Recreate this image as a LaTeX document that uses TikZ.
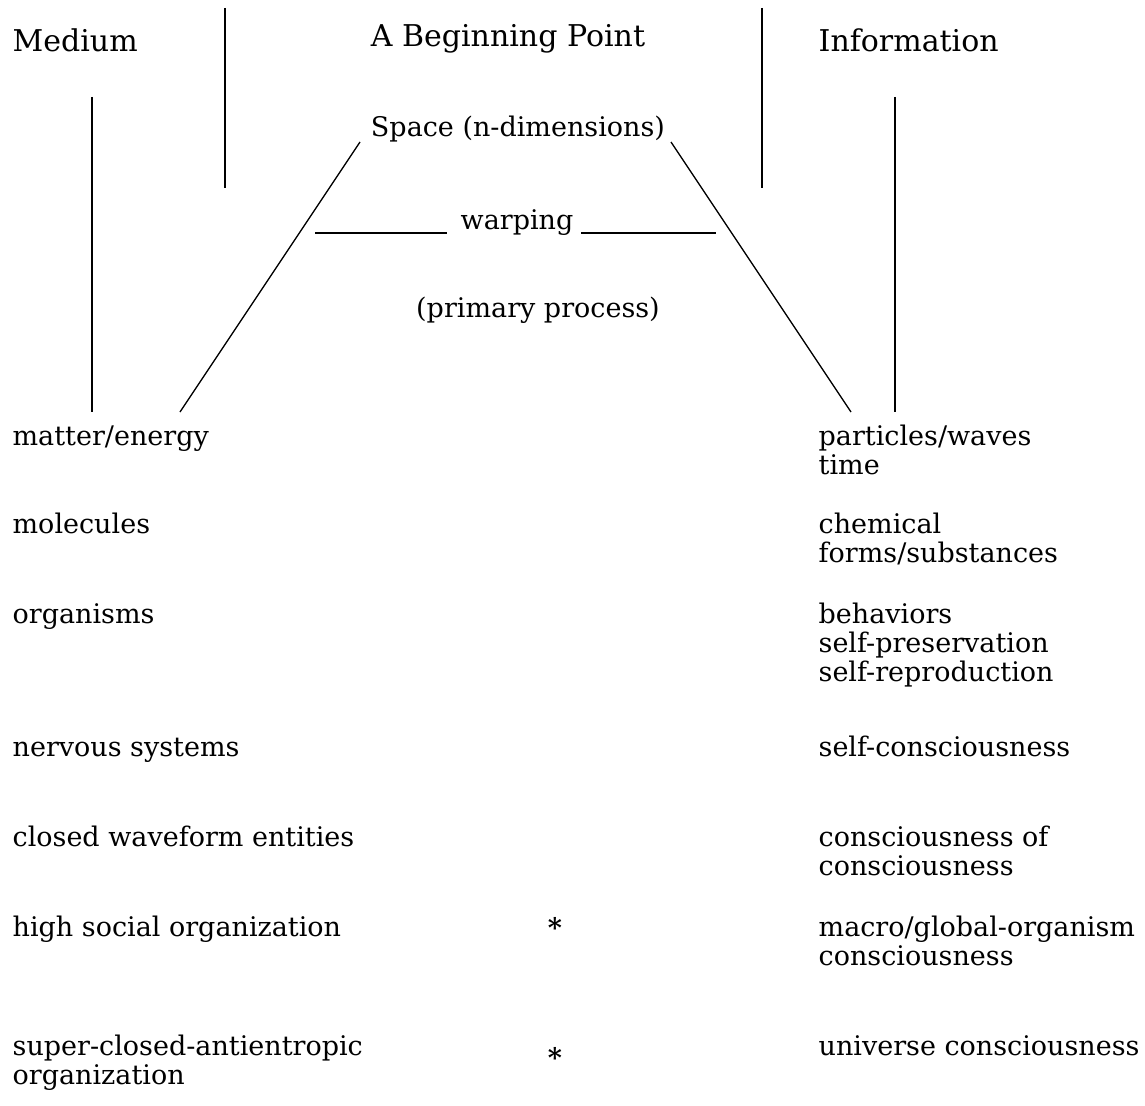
\documentclass[tikz,border=0pt]{standalone}
\usepackage{fontspec}
\setmainfont{DejaVu Serif}

\newcommand{\rows}[1]{\begin{tabular}[t]{@{}l@{}}#1\end{tabular}}

\tikzset{
  txt/.style={inner sep=0pt, anchor=base west,
    font=\fontsize{27}{29}\selectfont},
  head/.style={inner sep=0pt, anchor=base,
    font=\fontsize{30}{32}\selectfont},
  mid/.style={inner sep=0pt, anchor=base,
    font=\fontsize{27}{29}\selectfont}
}

\begin{document}
\begin{tikzpicture}[x=1pt,y=-1pt,line width=1.3pt]
\useasboundingbox (0,0) rectangle (1145,1105);
% headings
\node[head, anchor=base west] (medium) at (12,52) {Medium};
\node[head] (begin) at (508,47) {A Beginning Point};
\node[head, anchor=base west] (info) at (818,52) {Information};
\draw (225,8) -- (225,188);
\draw (762,8) -- (762,188);
\coordinate (ml) at (92,97);
\coordinate (mb) at (92,412);
\coordinate (il) at (895,97);
\coordinate (ib) at (895,412);
\draw (ml) -- (mb);
\draw (il) -- (ib);
% the beginning point
\node[mid] (space) at (518,136) {Space (n-dimensions)};
\node[mid] (warp) at (517,229) {warping};
\node[mid] (primary) at (538,317) {(primary process)};
\coordinate (sl) at (360,142);
\coordinate (sr) at (671,142);
\coordinate (el) at (180,412);
\coordinate (er) at (851,412);
\draw (sl) -- (el);
\draw (sr) -- (er);
\coordinate (wl) at (315,233);
\coordinate (wr) at (716,233);
\draw (wl) -- (447,233);
\draw (581,233) -- (wr);
% medium column
\node[txt] (matter) at (12,445) {matter/energy};
\node[txt] (molec) at (12,533) {molecules};
\node[txt] (organ) at (12,623) {organisms};
\node[txt] (nerv) at (12,756) {nervous systems};
\node[txt] (closed) at (12,846) {closed waveform entities};
\node[txt] (social) at (12,936) {high social organization};
\node[txt] (super) at (12,1055) {\rows{super-closed-antientropic\\organization}};
% information column
\node[txt] (part) at (818,445) {\rows{particles/waves\\time}};
\node[txt] (chem) at (818,533) {\rows{chemical\\forms/substances}};
\node[txt] (behav) at (818,623) {\rows{behaviors\\self-preservation\\self-reproduction}};
\node[txt] (selfc) at (818,756) {self-consciousness};
\node[txt] (cons) at (818,846) {\rows{consciousness of\\consciousness}};
\node[txt] (macro) at (818,936) {\rows{macro/global-organism\\consciousness}};
\node[txt] (univ) at (818,1055) {universe consciousness};
% stars
\node[mid, anchor=north] (star1) at (555,917) {\textbf{*}};
\node[mid, anchor=north] (star2) at (555,1047) {\textbf{*}};
\end{tikzpicture}
\end{document}
